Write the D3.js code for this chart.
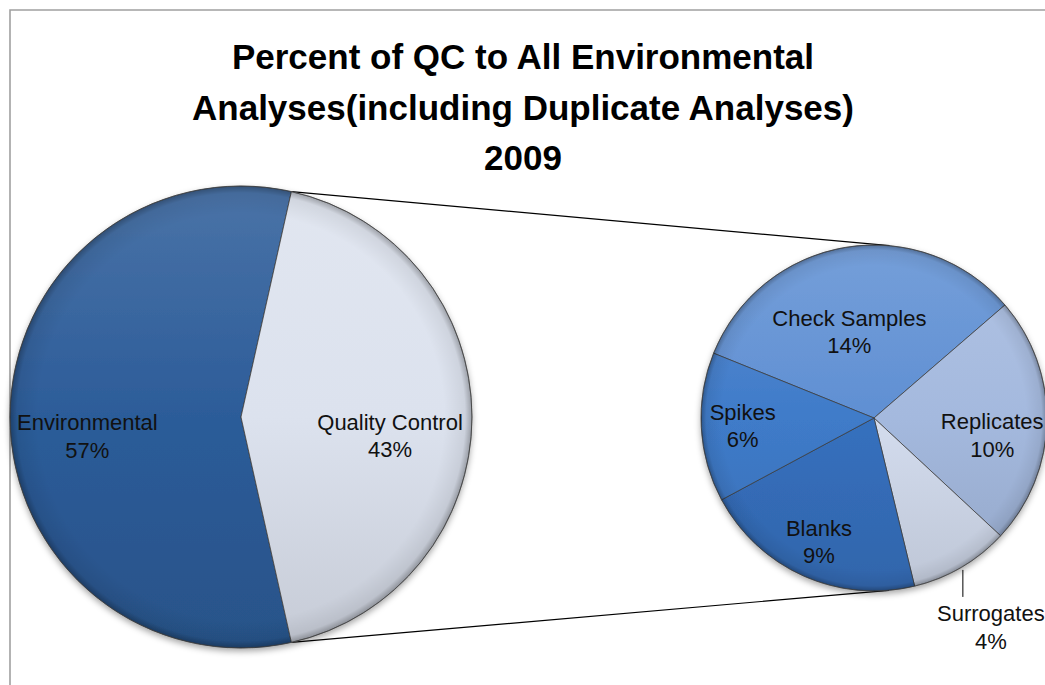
<!DOCTYPE html>
<meta charset="utf-8">
<style>
  body { margin: 0; background: #fff; }
  text { font-family: "Liberation Sans", Arial, sans-serif; }
</style>
<svg width="1045" height="685"></svg>
<script src="https://d3js.org/d3.v7.min.js"></script>
<script>
// data
const titleLines = ['Percent of QC to All Environmental', 'Analyses(including Duplicate Analyses)', '2009']
const mainLabels = ['Environmental', 'Quality Control']
const mainValues = [57, 43]
const mainColours = ['#2c5c99', '#dce2ee']
const qcLabels = ['Check Samples', 'Replicates', 'Surrogates', 'Blanks', 'Spikes']
const qcValues = [14, 10, 4, 9, 6]
const qcColours = ['#5f8fd3', '#a4b9de', '#d3dcee', '#3670be', '#3f7bc9']

// label placement (radius factor, angle nudge in degrees); 0 = outside with leader
const mainLabelPos = [[0.67, -7], [0.65, 7]]
const qcLabelPos = [[0.52, -6.5], [0.69, 7], [0, 0], [0.78, 0], [0.76, 0]]

const width = 1045
const height = 685
const svg = d3.select('svg')
const rad = d => d * Math.PI / 180

const leftPie = { cx: 241, cy: 417, r: 231 }
const rightPie = { cx: 874, cy: 418, r: 173 }

const defs = svg.append('defs')
const shadow = defs.append('filter').attr('id', 'shadow')
  .attr('x', '-10%').attr('y', '-10%').attr('width', '120%').attr('height', '125%')
shadow.append('feDropShadow').attr('dx', 0).attr('dy', 3)
  .attr('stdDeviation', 3).attr('flood-color', '#000').attr('flood-opacity', 0.35)

const rim = defs.append('radialGradient').attr('id', 'rim')
rim.append('stop').attr('offset', '0.88').attr('stop-color', '#000').attr('stop-opacity', 0)
rim.append('stop').attr('offset', '0.97').attr('stop-color', '#000').attr('stop-opacity', 0.07)
rim.append('stop').attr('offset', '1').attr('stop-color', '#000').attr('stop-opacity', 0.3)

function shade(id, colour, p) {
  const g = defs.append('linearGradient').attr('id', id)
    .attr('gradientUnits', 'userSpaceOnUse')
    .attr('x1', 0).attr('y1', p.cy - p.r).attr('x2', 0).attr('y2', p.cy + p.r)
  g.append('stop').attr('offset', 0).attr('stop-color', d3.interpolateRgb(colour, '#fff')(0.14))
  g.append('stop').attr('offset', 0.5).attr('stop-color', colour)
  g.append('stop').attr('offset', 1).attr('stop-color', d3.color(colour).darker(0.3))
  return 'url(#' + id + ')'
}

// chart border (runs off the right and bottom)
svg.append('path')
  .attr('d', `M10,${height + 5}V10H${width + 5}`)
  .attr('fill', 'none').attr('stroke', '#a0a0a0').attr('stroke-width', 1.6)

// title
const title = svg.append('text')
  .attr('text-anchor', 'middle').attr('font-size', 35).attr('font-weight', 'bold').attr('fill', '#000')
titleLines.forEach((s, i) => {
  title.append('tspan').attr('x', 523).attr('y', 69 + i * 50.5).text(s)
})

function drawLabel(g, x, y, lines) {
  const t = g.append('text').attr('text-anchor', 'middle').attr('font-size', 22).attr('fill', '#111')
  lines.forEach((s, i) => t.append('tspan').attr('x', x).attr('y', y - 5.5 + i * 27.5).text(s))
}

function polar(p, a, r) {
  return [p.cx + r * Math.sin(a), p.cy - r * Math.cos(a)]
}

// tangent point on circle p seen from point q (side = -1 upper, +1 lower)
function tangent(q, p, side) {
  const dx = p.cx - q[0], dy = p.cy - q[1]
  const d = Math.hypot(dx, dy)
  const dir = Math.atan2(dy, dx) + side * Math.asin(p.r / d)
  const len = Math.sqrt(d * d - p.r * p.r)
  return [q[0] + len * Math.cos(dir), q[1] + len * Math.sin(dir)]
}

// main pie: Quality Control slice centred on the right
const total = d3.sum(mainValues)
const frac = mainValues[1] / total
const qcStart = Math.PI / 2 - frac * Math.PI
const mainPie = d3.pie().sort(null)
  .startAngle(qcStart - (1 - frac) * 2 * Math.PI)
  .endAngle(qcStart + frac * 2 * Math.PI)
const mainArcs = mainPie(mainValues)

// second pie: breakdown of Quality Control
const qcStartAngle = rad(-68)
const qcPie = d3.pie().sort(null).startAngle(qcStartAngle).endAngle(qcStartAngle + 2 * Math.PI)
const qcArcs = qcPie(qcValues)

// connector lines, tangent to the second pie
const qcArc = mainArcs[1]
const pTop = polar(leftPie, qcArc.startAngle, leftPie.r)
const pBot = polar(leftPie, qcArc.endAngle, leftPie.r)
const lines = [
  [pTop, tangent(pTop, rightPie, -1)],
  [pBot, tangent(pBot, rightPie, 1)]
]
svg.append('g').selectAll('line').data(lines).enter().append('line')
  .attr('x1', d => d[0][0]).attr('y1', d => d[0][1])
  .attr('x2', d => d[1][0]).attr('y2', d => d[1][1])
  .attr('stroke', '#000').attr('stroke-width', 1.2)

function drawPie(p, arcs, colours, name) {
  const arc = d3.arc().innerRadius(0).outerRadius(p.r)
  const g = svg.append('g').attr('transform', `translate(${p.cx},${p.cy})`)
  const body = g.append('g').attr('filter', 'url(#shadow)')
  body.selectAll('path').data(arcs).enter().append('path')
    .attr('d', arc)
    .attr('fill', (d, i) => shade(name + i, colours[i], { cx: 0, cy: 0, r: p.r }))
    .attr('stroke', '#3c3c3c').attr('stroke-width', 1).attr('stroke-opacity', 0.75)
    .attr('stroke-linejoin', 'round')
  g.append('circle').attr('r', p.r).attr('fill', 'url(#rim)')
    .attr('stroke', '#444').attr('stroke-opacity', 0.6).attr('stroke-width', 0.8)
  return g
}

drawPie(leftPie, mainArcs, mainColours, 'm')
drawPie(rightPie, qcArcs, qcColours, 'q')

const labels = svg.append('g')
mainArcs.forEach((d, i) => {
  const [k, nudge] = mainLabelPos[i]
  const a = (d.startAngle + d.endAngle) / 2 + rad(nudge)
  const [x, y] = polar(leftPie, a, k * leftPie.r)
  drawLabel(labels, x, y, [mainLabels[i], Math.round(d.value / total * 100) + '%'])
})

qcArcs.forEach((d, i) => {
  const [k, nudge] = qcLabelPos[i]
  const a = (d.startAngle + d.endAngle) / 2 + rad(nudge)
  if (k > 0) {
    const [x, y] = polar(rightPie, a, k * rightPie.r)
    drawLabel(labels, x, y, [qcLabels[i], d.value + '%'])
  } else {
    // outside label with a short vertical leader
    const [x0, y0] = polar(rightPie, a, rightPie.r + 3)
    labels.append('line')
      .attr('x1', x0).attr('y1', y0).attr('x2', x0).attr('y2', y0 + 27)
      .attr('stroke', '#000').attr('stroke-width', 1)
    drawLabel(labels, x0 + 28, y0 + 57, [qcLabels[i], d.value + '%'])
  }
})
</script>
